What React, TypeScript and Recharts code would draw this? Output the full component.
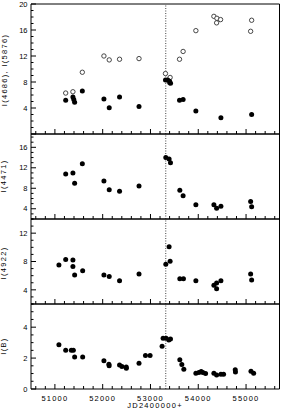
import React from "react";
import { ScatterChart, Scatter, XAxis, YAxis, ReferenceLine } from "recharts";

// shared x axis (JD - 2400000)
const jdDomain = [50500, 55700];
const jdTicks = [
  50600, 50800, 51000, 51200, 51400, 51600, 51800, 52000, 52200, 52400, 52600,
  52800, 53000, 53200, 53400, 53600, 53800, 54000, 54200, 54400, 54600, 54800,
  55000, 55200, 55400, 55600,
];
const jdLabels = [51000, 52000, 53000, 54000, 55000];
const eventJD = 53320;

// panel 1: I(4686) filled, I(5876) open
const i4686 = [
  [51226, 5.2], [51377, 5.7], [51395, 5.3], [51413, 4.9], [51574, 6.6],
  [52026, 5.4], [52137, 4.05], [52353, 5.7], [52760, 4.25], [53314, 8.3],
  [53360, 8.3], [53400, 8.1], [53420, 7.8], [53608, 5.2], [53683, 5.3],
  [53950, 3.55], [54474, 2.5], [55117, 3.0],
];
const i5876 = [
  [51226, 6.3], [51377, 6.5], [51574, 9.5], [52026, 12.0], [52137, 11.4],
  [52353, 11.5], [52760, 11.6], [53314, 9.3], [53411, 8.7], [53398, 7.9],
  [53608, 11.5], [53683, 12.7], [53950, 15.9], [54327, 18.1], [54390, 17.8],
  [54467, 17.6], [54384, 17.1], [55117, 17.5], [55096, 15.8],
];

// panel 2
const i4471 = [
  [51226, 10.8], [51377, 11.0], [51413, 9.0], [51574, 12.8], [52026, 9.4],
  [52137, 7.7], [52353, 7.4], [52760, 8.45], [53321, 14.0], [53390, 13.7],
  [53419, 13.0], [53614, 7.6], [53683, 6.55], [53950, 4.8], [54327, 4.8],
  [54384, 4.1], [54474, 4.5], [55096, 5.4], [55117, 4.4],
];

// panel 3
const i4922 = [
  [51084, 7.5], [51226, 8.3], [51377, 8.2], [51377, 7.3], [51413, 6.1],
  [51581, 6.7], [52026, 6.1], [52137, 5.9], [52353, 5.3], [52760, 6.25],
  [53321, 7.6], [53390, 10.1], [53411, 8.05], [53614, 5.55], [53690, 5.55],
  [53950, 5.3], [54327, 4.65], [54384, 4.95], [54384, 4.15], [54474, 5.3],
  [55096, 6.25], [55117, 5.4],
];

// panel 4
const iB = [
  [51084, 2.87], [51226, 2.5], [51344, 2.5], [51386, 2.5], [51413, 2.07],
  [51581, 2.07], [52026, 1.82], [52130, 1.6], [52135, 1.5], [52353, 1.56],
  [52403, 1.45], [52493, 1.43], [52495, 1.35], [52760, 1.67], [52895, 2.17],
  [52992, 2.17], [53243, 2.76], [53264, 3.28], [53327, 3.28], [53384, 3.17],
  [53419, 3.24], [53614, 1.89], [53656, 1.58], [53698, 1.28], [53950, 1.02],
  [54013, 1.06], [54061, 1.13], [54096, 1.06], [54153, 1.0], [54327, 1.02],
  [54384, 0.91], [54474, 0.96], [54530, 0.96], [54774, 1.24], [54778, 1.1],
  [55103, 1.15], [55159, 1.02],
];

const y1Ticks = [0, 1, 2, 3, 4, 5, 6, 7, 8, 9, 10, 11, 12, 13, 14, 15, 16, 17, 18, 19, 20];
const y1Labels = [4, 8, 12, 16, 20];
const y2Ticks = [2, 3, 4, 5, 6, 7, 8, 9, 10, 11, 12, 13, 14, 15, 16, 17, 18];
const y2Labels = [4, 8, 12, 16];
const y3Ticks = [2, 3, 4, 5, 6, 7, 8, 9, 10, 11, 12, 13, 14];
const y3Labels = [4, 8, 12];
const y4Ticks = [0, 0.5, 1, 1.5, 2, 2.5, 3, 3.5, 4, 4.5, 5, 5.5];
const y4Labels = [0, 2, 4];

const font = "'Liberation Sans', Arial, sans-serif";
const toPts = (arr: number[][]) => arr.map(([x, y]) => ({ x, y }));

const filledDot = (p: any) => <circle cx={p.cx} cy={p.cy} r={2.5} fill="#000" />;
const openDot = (p: any) => (
  <circle cx={p.cx} cy={p.cy} r={2.2} fill="#fff" stroke="#333" strokeWidth={0.9} />
);

const xTick = (side: "top" | "bottom", showLabels: boolean) => (props: any) => {
  const { x, y, payload } = props;
  const v = payload.value;
  const len = v % 1000 === 0 ? 5 : 3;
  const dir = side === "top" ? 1 : -1;
  return (
    <g>
      <path d={`M${x},${y}L${x},${y + dir * len}`} stroke="#000" strokeWidth={1} fill="none" />
      {showLabels && jdLabels.includes(v) && (
        <text x={x} y={y + 11.5} textAnchor="middle" fontSize={7.5} fontFamily={font} letterSpacing={1.2} fill="#000">
          {v}
        </text>
      )}
    </g>
  );
};

const yTick = (side: "left" | "right", major: number, labels: number[]) => (props: any) => {
  const { x, y, payload } = props;
  const v = payload.value;
  const isMajor = Math.abs(v / major - Math.round(v / major)) < 1e-6;
  const len = isMajor ? 5 : 2.5;
  const dir = side === "left" ? 1 : -1;
  return (
    <g>
      <path d={`M${x},${y}L${x + dir * len},${y}`} stroke="#000" strokeWidth={1} fill="none" />
      {side === "left" && labels.includes(v) && (
        <text x={x - 3.5} y={y + 2.7} textAnchor="end" fontSize={7.5} fontFamily={font} fill="#000">
          {v}
        </text>
      )}
    </g>
  );
};

type Panel = {
  plotTop: number;
  plotHeight: number;
  topAxis: number;
  bottomAxis: number;
  domain: number[];
  ticks: number[];
  major: number;
  labels: number[];
  series: { data: number[][]; open?: boolean }[];
  showX: boolean;
};

const panels: Panel[] = [
  { plotTop: 4, plotHeight: 130, topAxis: 4, bottomAxis: 1, domain: [0, 20], ticks: y1Ticks, major: 4, labels: y1Labels, series: [{ data: i5876, open: true }, { data: i4686 }], showX: false },
  { plotTop: 134, plotHeight: 85, topAxis: 1, bottomAxis: 1, domain: [2, 18.6], ticks: y2Ticks, major: 4, labels: y2Labels, series: [{ data: i4471 }], showX: false },
  { plotTop: 219, plotHeight: 85, topAxis: 1, bottomAxis: 1, domain: [2, 14], ticks: y3Ticks, major: 4, labels: y3Labels, series: [{ data: i4922 }], showX: false },
  { plotTop: 304, plotHeight: 85, topAxis: 1, bottomAxis: 21, domain: [0, 5.5], ticks: y4Ticks, major: 2, labels: y4Labels, series: [{ data: iB }], showX: true },
];

const titles = [
  { text: "I(4686), I(5876)", x: 6.5, y: 70 },
  { text: "I(4471)", x: 6, y: 176 },
  { text: "I(4922)", x: 6, y: 263 },
  { text: "I(B)", x: 6, y: 346 },
];

const axisLine = { stroke: "#000", strokeWidth: 1 };

export default function App() {
  return (
    <div style={{ position: "absolute", left: 0, top: 0, width: 284, height: 410, background: "#fff" }}>
      {panels.map((p, i) => (
        <div key={i} style={{ position: "absolute", left: 0, top: p.plotTop - p.topAxis }}>
          <ScatterChart
            width={284}
            height={p.plotHeight + p.topAxis + p.bottomAxis}
            margin={{ top: 0, right: 0, bottom: 0, left: 0 }}
          >
            <XAxis
              type="number"
              dataKey="x"
              domain={jdDomain}
              ticks={jdTicks}
              interval={0}
              height={p.bottomAxis}
              stroke="#000"
              tickSize={0}
              tickMargin={0}
              tickLine={false}
              axisLine={axisLine}
              tick={xTick("bottom", p.showX)}
            />
            <XAxis
              xAxisId="top"
              orientation="top"
              type="number"
              dataKey="x"
              domain={jdDomain}
              ticks={jdTicks}
              interval={0}
              height={p.topAxis}
              stroke="#000"
              tickSize={0}
              tickMargin={0}
              tickLine={false}
              axisLine={axisLine}
              tick={xTick("top", false)}
            />
            <YAxis
              type="number"
              dataKey="y"
              domain={p.domain}
              ticks={p.ticks}
              interval={0}
              width={31}
              stroke="#000"
              tickSize={0}
              tickMargin={0}
              tickLine={false}
              axisLine={axisLine}
              tick={yTick("left", p.major, p.labels)}
            />
            <YAxis
              yAxisId="r"
              orientation="right"
              type="number"
              dataKey="y"
              domain={p.domain}
              ticks={p.ticks}
              interval={0}
              width={4.5}
              stroke="#000"
              tickSize={0}
              tickMargin={0}
              tickLine={false}
              axisLine={axisLine}
              tick={yTick("right", p.major, p.labels)}
            />
            <ReferenceLine x={eventJD} stroke="#444" strokeDasharray="1 1.5" />
            {p.series.map((s, j) => (
              <Scatter
                key={j}
                data={toPts(s.data)}
                shape={s.open ? openDot : filledDot}
                isAnimationActive={false}
              />
            ))}
          </ScatterChart>
        </div>
      ))}
      <svg width={284} height={410} style={{ position: "absolute", left: 0, top: 0, pointerEvents: "none" }}>
        {titles.map((t) => (
          <text
            key={t.text}
            transform={`translate(${t.x},${t.y}) rotate(-90)`}
            textAnchor="middle"
            fontSize={7.5}
            fontFamily={font}
            letterSpacing={1.3}
            fill="#000"
          >
            {t.text}
          </text>
        ))}
        <text x={155} y={408} textAnchor="middle" fontSize={7.5} fontFamily={font} letterSpacing={1.3} fill="#000">
          JD2400000+
        </text>
      </svg>
    </div>
  );
}
